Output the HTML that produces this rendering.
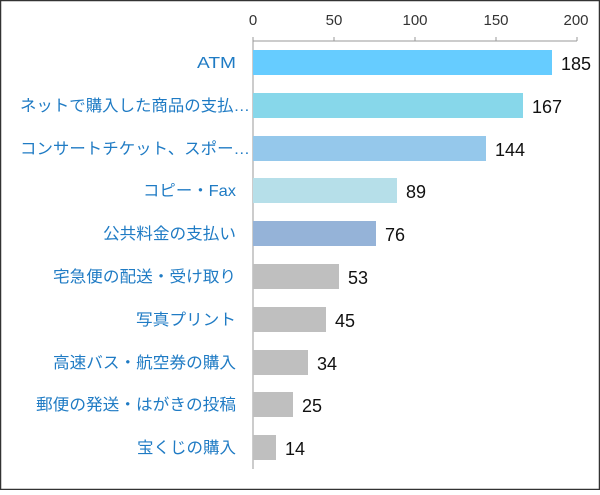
<!DOCTYPE html>
<html><head><meta charset="utf-8"><style>body{margin:0;background:#fff}</style></head><body>
<svg width="600" height="490" xmlns="http://www.w3.org/2000/svg" font-family="'Liberation Sans','Noto Sans CJK JP',sans-serif">
<rect x="0.5" y="0.5" width="599" height="489" fill="#fff" stroke="#333" stroke-width="1.5"/>
<g fill="#333" font-size="15" text-anchor="middle">
<text x="253" y="25">0</text><text x="334" y="25">50</text><text x="415" y="25">100</text><text x="496" y="25">150</text><text x="576" y="25">200</text>
</g>
<g stroke="#999" stroke-width="1"><line x1="253" y1="41" x2="577" y2="41"/><line x1="253" y1="37" x2="253" y2="469"/>
<line x1="334" y1="37" x2="334" y2="41"/><line x1="415" y1="37" x2="415" y2="41"/><line x1="496" y1="37" x2="496" y2="41"/><line x1="577" y1="37" x2="577" y2="41"/></g>
<g>
<rect x="253" y="50" width="299" height="25" fill="#66ccff"/>
<rect x="253" y="93" width="270" height="25" fill="#87d7ea"/>
<rect x="253" y="136" width="233" height="25" fill="#95c8eb"/>
<rect x="253" y="178" width="144" height="25" fill="#b6dfe9"/>
<rect x="253" y="221" width="123" height="25" fill="#95b3d8"/>
<rect x="253" y="264" width="86" height="25" fill="#bfbfbf"/>
<rect x="253" y="307" width="73" height="25" fill="#bfbfbf"/>
<rect x="253" y="350" width="55" height="25" fill="#bfbfbf"/>
<rect x="253" y="392" width="40" height="25" fill="#bfbfbf"/>
<rect x="253" y="435" width="23" height="25" fill="#bfbfbf"/>
</g>
<g fill="#111" font-size="18">
<text x="561" y="70">185</text><text x="532" y="113">167</text><text x="495" y="156">144</text><text x="406" y="198">89</text><text x="385" y="241">76</text><text x="348" y="284">53</text><text x="335" y="327">45</text><text x="317" y="370">34</text><text x="302" y="412">25</text><text x="285" y="455">14</text>
</g>
<g fill="#1f7bc4" font-size="16" text-anchor="end">
<text x="236" y="68" textLength="39" lengthAdjust="spacingAndGlyphs">ATM</text>
<text x="250" y="111" textLength="230" lengthAdjust="spacingAndGlyphs">ネットで購入した商品の支払…</text>
<text x="250" y="154" textLength="230" lengthAdjust="spacingAndGlyphs">コンサートチケット、スポー…</text>
<text x="236" y="196" textLength="93" lengthAdjust="spacingAndGlyphs">コピー・Fax</text>
<text x="236" y="239" textLength="133" lengthAdjust="spacingAndGlyphs">公共料金の支払い</text>
<text x="236" y="282" textLength="183" lengthAdjust="spacingAndGlyphs">宅急便の配送・受け取り</text>
<text x="236" y="325" textLength="100" lengthAdjust="spacingAndGlyphs">写真プリント</text>
<text x="236" y="368" textLength="183" lengthAdjust="spacingAndGlyphs">高速バス・航空券の購入</text>
<text x="236" y="410" textLength="200" lengthAdjust="spacingAndGlyphs">郵便の発送・はがきの投稿</text>
<text x="236" y="453" textLength="99" lengthAdjust="spacingAndGlyphs">宝くじの購入</text>
</g>
</svg>
</body></html>
